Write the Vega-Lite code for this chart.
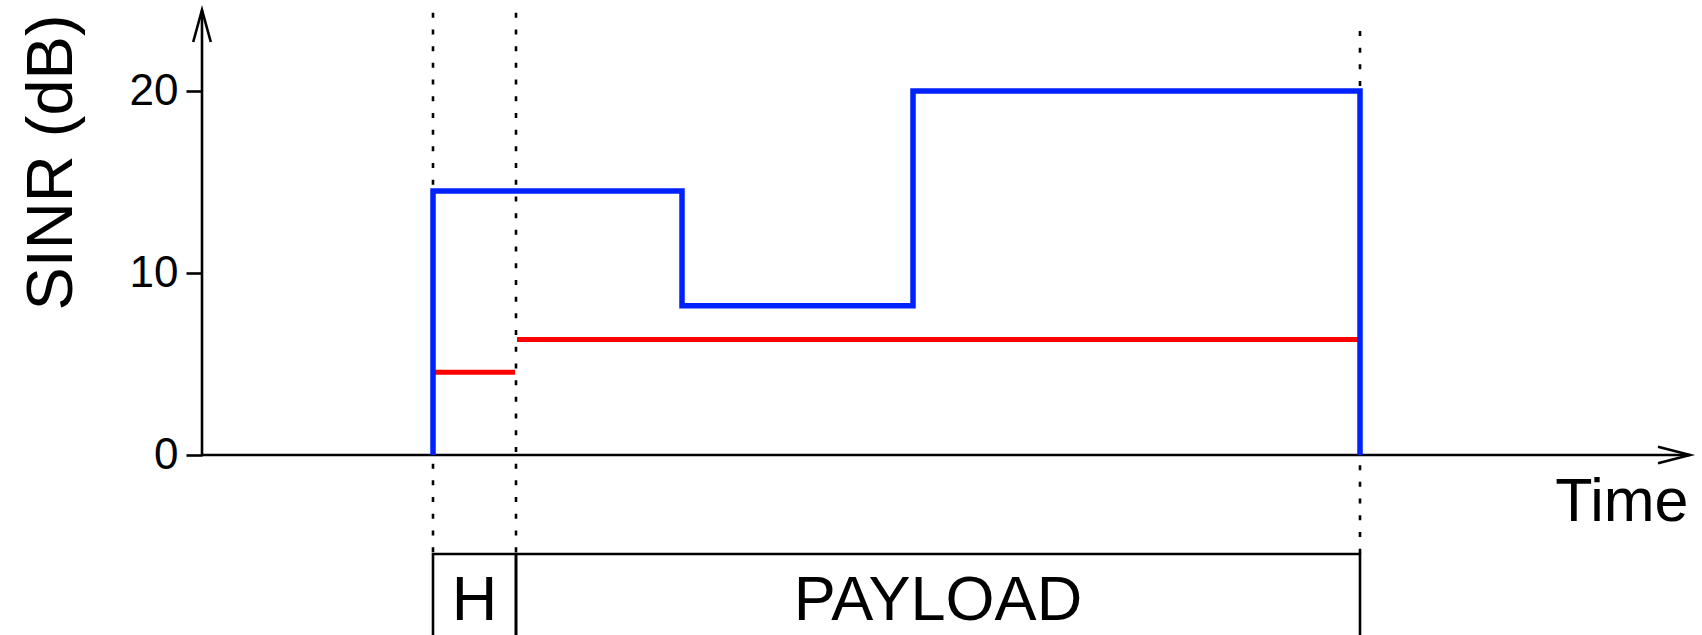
{
  "$schema": "https://vega.github.io/schema/vega-lite/v6.json",
  "width": 1500,
  "height": 637,
  "autosize": {"type": "none"},
  "padding": {"left": 202, "top": 0, "right": 0, "bottom": 0},
  "background": "white",
  "config": {"view": {"stroke": null}, "font": "Liberation Sans"},
  "datasets": {
    "blue": [
      {"i": 1, "t": 231, "sinr": 0},
      {"i": 2, "t": 231, "sinr": 14.5},
      {"i": 3, "t": 480, "sinr": 14.5},
      {"i": 4, "t": 480, "sinr": 8.2},
      {"i": 5, "t": 711, "sinr": 8.2},
      {"i": 6, "t": 711, "sinr": 20},
      {"i": 7, "t": 1158, "sinr": 20},
      {"i": 8, "t": 1158, "sinr": 0}
    ],
    "red": [
      {"start": 231, "end": 313, "sinr": 4.55},
      {"start": 315, "end": 1158, "sinr": 6.35}
    ],
    "bounds": [
      {"t": 231, "top": 24.3},
      {"t": 314, "top": 24.3},
      {"t": 1158, "top": 23.3}
    ],
    "segments": [
      {"seg": "H", "start": 231, "end": 314},
      {"seg": "PAYLOAD", "start": 314, "end": 1158}
    ],
    "axes": [
      {"name": "x", "x1": 0, "x2": 1488, "y1": 0, "y2": 0},
      {"name": "y", "x1": 0, "x2": 0, "y1": 0, "y2": 24.45}
    ],
    "arrows": [
      {"dir": "right", "x": 1488, "y": 0},
      {"dir": "up", "x": 0, "y": 24.45}
    ]
  },
  "layer": [
    {
      "data": {"name": "axes"},
      "mark": {"type": "rule", "color": "black", "strokeWidth": 2.6},
      "encoding": {
        "x": {
          "field": "x1", "type": "quantitative",
          "scale": {"domain": [0, 1500], "nice": false, "zero": false},
          "axis": {
            "orient": "bottom", "domain": false, "ticks": false, "labels": false, "grid": false,
            "title": "Time", "titleX": 1486, "titleY": -117, "titleAlign": "right",
            "titleBaseline": "alphabetic", "titleFontSize": 61, "titleFontWeight": "normal",
            "titleColor": "black", "titleFont": "Liberation Sans"
          }
        },
        "x2": {"field": "x2"},
        "y": {
          "field": "y1", "type": "quantitative",
          "scale": {"domain": [-10, 25], "nice": false, "zero": false},
          "axis": {
            "values": [0, 10, 20], "domain": false, "grid": false,
            "tickSize": 16, "tickWidth": 2.6, "tickColor": "black",
            "labelFontSize": 44, "labelColor": "black", "labelPadding": 8, "labelFont": "Liberation Sans",
            "title": "SINR (dB)", "titleFontSize": 65, "titleFontWeight": "normal",
            "titleAngle": 270, "titleX": -131, "titleY": 162, "titleAlign": "center",
            "titleBaseline": "alphabetic", "titleColor": "black", "titleFont": "Liberation Sans"
          }
        },
        "y2": {"field": "y2"}
      }
    },
    {
      "data": {"name": "arrows"},
      "mark": {"type": "point", "filled": false, "stroke": "black", "strokeWidth": 2.6, "size": 1024, "opacity": 1},
      "encoding": {
        "x": {"field": "x", "type": "quantitative"},
        "y": {"field": "y", "type": "quantitative"},
        "shape": {
          "field": "dir", "type": "nominal",
          "scale": {"domain": ["right", "up"], "range": ["M-2,-0.52L0,0L-2,0.52", "M-0.55,2L0,0L0.55,2"]},
          "legend": null
        }
      }
    },
    {
      "data": {"name": "bounds"},
      "mark": {"type": "rule", "color": "black", "strokeWidth": 2.6, "strokeDash": [5, 11.7]},
      "encoding": {
        "x": {"field": "t", "type": "quantitative"},
        "y": {"field": "top", "type": "quantitative"},
        "y2": {"datum": -5.44}
      }
    },
    {
      "data": {"name": "segments"},
      "mark": {"type": "rect", "fill": null, "stroke": "black", "strokeWidth": 2.6},
      "encoding": {
        "x": {"field": "start", "type": "quantitative"},
        "x2": {"field": "end"},
        "y": {"datum": -5.44, "type": "quantitative"},
        "y2": {"datum": -11}
      }
    },
    {
      "data": {"name": "segments"},
      "transform": [{"calculate": "(datum.start + datum.end) / 2", "as": "mid"}],
      "mark": {"type": "text", "align": "center", "baseline": "alphabetic", "fontSize": 63, "color": "black", "font": "Liberation Sans"},
      "encoding": {
        "x": {"field": "mid", "type": "quantitative"},
        "y": {"datum": -9.07, "type": "quantitative"},
        "text": {"field": "seg"}
      }
    },
    {
      "data": {"name": "red"},
      "mark": {"type": "rule", "color": "#ff0000", "strokeWidth": 5, "strokeCap": "butt"},
      "encoding": {
        "x": {"field": "start", "type": "quantitative"},
        "x2": {"field": "end"},
        "y": {"field": "sinr", "type": "quantitative"}
      }
    },
    {
      "data": {"name": "blue"},
      "mark": {"type": "line", "color": "#0022ff", "strokeWidth": 5.5, "strokeJoin": "miter", "strokeCap": "butt"},
      "encoding": {
        "x": {"field": "t", "type": "quantitative"},
        "y": {"field": "sinr", "type": "quantitative"},
        "order": {"field": "i"}
      }
    }
  ]
}
